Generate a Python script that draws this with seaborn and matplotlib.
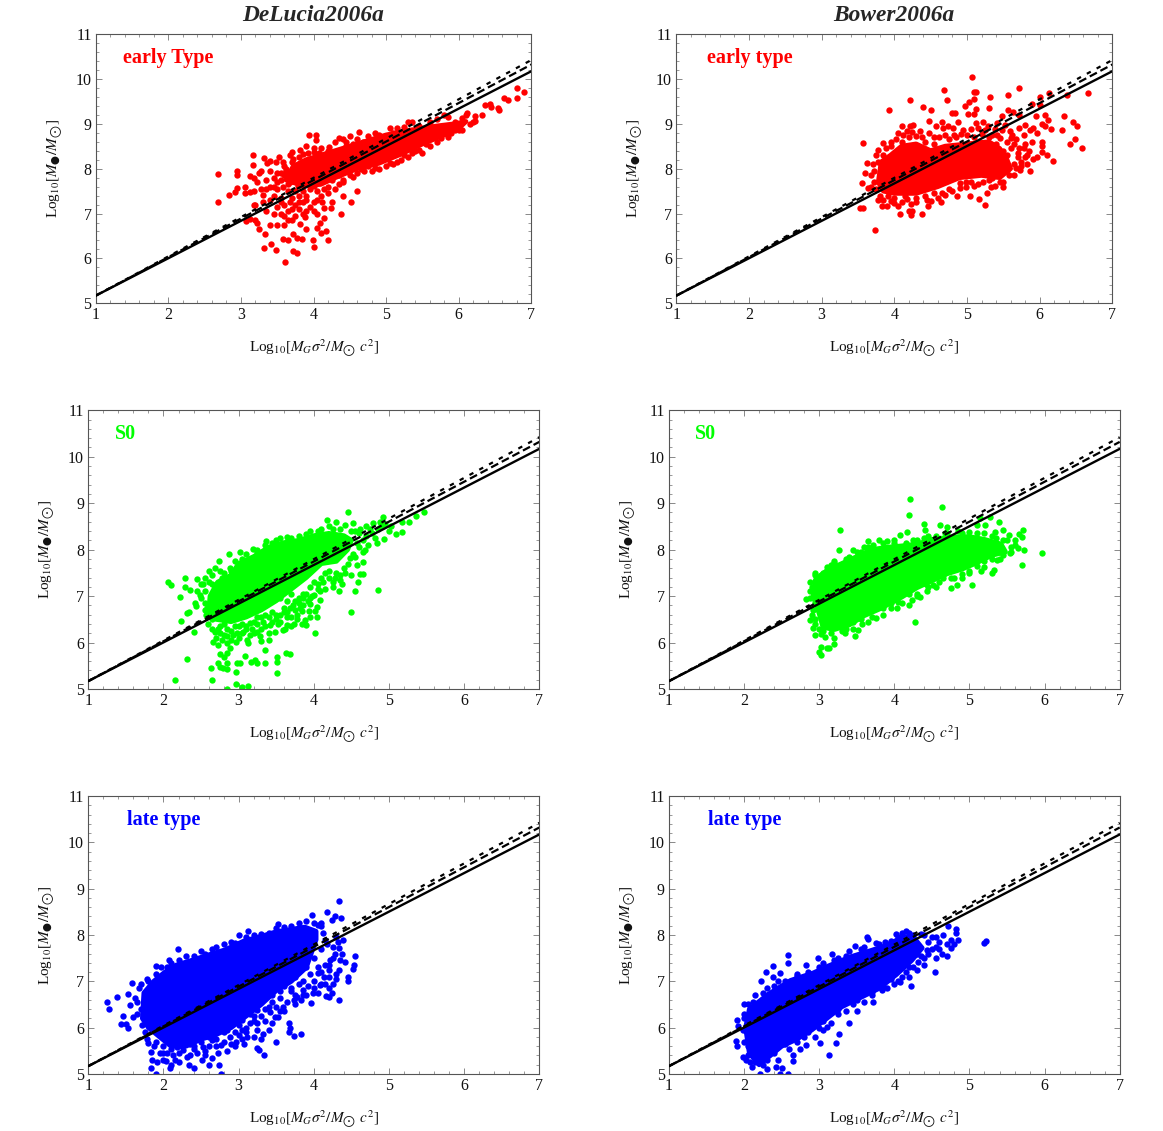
import matplotlib
matplotlib.use("Agg")
import matplotlib.pyplot as plt
import pandas as pd
import seaborn as sns
from matplotlib.ticker import MultipleLocator

# Values. The *_core outlines trace the solid part of each
# cloud where single points cannot be told apart; *_pts are the visible points.
line_x = [1, 7]
solid_y = [5.17, 10.17]
dashed_y = [5.17, 10.32]
dotted_y = [5.17, 10.42]
x_ticks = [1, 2, 3, 4, 5, 6, 7]
y_ticks = [5, 6, 7, 8, 9, 10, 11]

a_core = [(3.62, 7.75), (3.72, 8.05), (3.9, 8.2), (4.1, 8.3), (4.3, 8.4), (4.6, 8.55), (5.0, 8.75), (5.3, 8.85),
          (5.7, 8.95), (5.95, 9.0), (6.1, 9.05), (6.0, 8.9), (5.8, 8.75), (5.5, 8.55), (5.2, 8.32), (4.9, 8.12),
          (4.6, 8.0), (4.3, 7.8), (4.1, 7.65), (3.85, 7.62)]
a_pts = [(2.68, 7.89), (2.68, 7.25), (2.84, 7.42), (2.92, 7.49), (2.94, 7.57), (2.95, 7.95), (2.95, 7.86), (3.05, 7.6),
         (3.06, 7.45), (3.13, 7.49), (3.18, 7.51), (3.16, 8.31), (3.17, 8.09), (3.13, 7.84), (3.18, 7.79), (3.27, 7.95),
         (3.25, 7.9), (3.22, 7.7), (3.28, 7.55), (3.3, 7.42), (3.2, 7.2), (3.18, 7.18), (3.07, 6.84), (3.13, 6.87),
         (3.2, 6.85), (3.22, 6.78), (3.25, 6.65), (3.33, 6.55), (3.4, 6.75), (3.32, 6.23), (3.42, 6.32), (3.48, 6.19),
         (3.61, 5.91), (3.72, 6.17), (3.77, 6.13), (3.58, 6.43), (3.65, 6.4), (3.72, 6.55), (3.77, 6.45), (3.84, 6.43),
         (4.0, 6.26), (3.99, 6.4), (4.2, 6.41), (4.17, 6.6), (4.1, 6.56), (4.05, 6.67), (4.09, 6.8), (4.15, 6.9),
         (3.89, 6.65), (3.81, 6.77), (3.88, 6.93), (4.38, 6.98), (4.52, 7.25), (4.6, 7.51), (4.4, 7.38), (4.26, 7.25),
         (4.24, 7.12), (4.14, 7.12), (3.94, 8.74), (4.03, 8.75), (4.03, 8.64), (3.82, 8.42), (3.7, 8.38), (3.52, 8.26),
         (3.49, 8.14), (3.4, 8.17), (3.32, 8.23), (3.36, 8.12), (3.9, 8.5), (4.0, 8.47), (6.9, 9.71), (6.8, 9.79),
         (6.8, 9.58), (6.62, 9.57), (6.68, 9.54), (6.54, 9.36), (6.55, 9.31), (6.36, 9.42), (6.43, 9.45), (6.45, 9.37),
         (6.32, 9.2), (6.22, 9.18), (6.22, 9.07), (6.11, 9.24), (3.4, 7.6), (3.45, 7.4), (3.5, 7.55), (3.55, 7.35),
         (3.6, 7.2), (3.5, 7.15), (3.55, 7.0), (3.6, 6.95), (3.65, 7.05), (3.7, 7.1), (3.75, 6.95), (3.5, 6.75),
         (3.6, 6.75), (3.7, 6.85), (3.8, 7.1), (3.85, 7.25), (3.9, 7.3), (3.95, 7.15), (4.0, 7.05), (4.05, 7.0),
         (3.9, 7.4), (4.05, 7.3), (4.1, 7.4), (4.2, 7.45), (4.3, 7.55), (4.35, 7.65), (4.4, 7.7), (3.35, 7.05),
         (3.4, 7.3), (3.35, 7.75), (3.45, 7.8), (3.4, 7.95), (3.5, 7.9), (3.55, 7.75), (3.6, 7.85), (3.62, 8.0),
         (3.6, 8.05), (3.7, 8.15), (3.8, 8.25), (3.75, 7.95), (3.8, 7.4), (3.65, 7.5), (3.7, 7.35), (3.75, 7.5),
         (3.85, 7.5), (3.95, 7.55), (4.05, 7.5), (3.45, 7.0), (3.68, 7.7), (3.58, 7.6), (3.78, 7.62), (3.68, 7.25),
         (4.2, 8.4), (4.3, 8.6), (4.35, 8.68), (4.4, 8.65), (4.5, 8.72), (4.6, 8.65), (4.63, 8.82), (4.75, 8.72),
         (4.85, 8.8), (4.9, 8.75), (5.0, 8.72), (5.05, 8.9), (5.15, 8.9), (5.25, 8.93), (5.3, 9.03), (5.35, 9.03),
         (5.45, 8.95), (5.6, 9.05), (5.7, 9.1), (5.8, 9.2), (5.85, 9.15), (5.95, 9.05), (6.05, 9.12), (6.1, 9.2),
         (4.4, 7.75), (4.5, 7.85), (4.6, 7.9), (4.7, 7.95), (4.8, 7.95), (4.9, 8.0), (5.0, 8.05), (5.1, 8.1),
         (5.2, 8.2), (5.3, 8.25), (5.4, 8.4), (5.5, 8.35), (5.55, 8.55), (5.7, 8.6), (5.85, 8.7), (6.0, 8.85),
         (5.95, 8.85), (6.2, 9.05), (4.1, 8.45), (4.0, 8.38), (3.85, 8.33), (4.2, 7.6), (4.0, 7.62), (4.45, 8.5)]
a_fringe = [(3.72, 8.22), (3.8, 8.1), (3.92, 8.35), (4.08, 8.35), (4.15, 8.28), (4.22, 8.48), (4.28, 8.33), (4.45, 8.6),
            (4.55, 8.55), (4.68, 8.6), (4.8, 8.62), (4.95, 8.65), (5.1, 8.8), (5.2, 8.78), (5.4, 8.85), (5.55, 8.9),
            (5.75, 8.85), (5.9, 8.9), (4.25, 7.75), (4.35, 7.85), (4.45, 7.95), (4.55, 7.82), (4.65, 8.0), (4.75, 8.05),
            (4.85, 8.02), (5.05, 8.12), (5.15, 8.15), (5.25, 8.3), (5.35, 8.35), (5.45, 8.42), (5.6, 8.5), (5.75, 8.68),
            (5.9, 8.8), (6.05, 8.85), (6.0, 8.95), (6.15, 9.0), (3.95, 7.7), (3.85, 7.7), (3.75, 7.8), (3.65, 7.65),
            (3.55, 7.9), (4.15, 7.55), (3.5, 7.7), (3.45, 7.6), (3.3, 7.25), (3.35, 7.55), (3.55, 7.25), (3.8, 7.25),
            (3.75, 7.2), (3.65, 6.85), (3.9, 7.05), (4.0, 7.25), (4.12, 7.25), (3.85, 7.0), (3.58, 8.15), (3.68, 8.3),
            (3.62, 7.95)]

b_core = [(3.78, 7.7), (3.82, 8.15), (3.95, 8.3), (4.1, 8.5), (4.3, 8.55), (4.5, 8.4), (4.7, 8.5), (5.0, 8.55),
          (5.3, 8.6), (5.45, 8.45), (5.55, 8.2), (5.6, 8.0), (5.45, 7.8), (5.2, 7.85), (4.9, 7.8), (4.6, 7.6),
          (4.3, 7.45), (4.0, 7.45), (3.85, 7.5)]
b_pts = [(5.07, 10.05), (4.69, 9.76), (5.72, 9.8), (5.12, 9.71), (5.1, 9.7), (4.21, 9.54), (4.73, 9.53), (5.09, 9.55),
         (5.03, 9.48), (4.97, 9.39), (5.32, 9.6), (5.57, 9.64), (6.0, 9.6), (6.13, 9.69), (6.38, 9.63), (6.66, 9.68),
         (3.93, 9.3), (4.4, 9.37), (4.51, 9.3), (4.8, 9.24), (4.84, 9.25), (5.01, 9.21), (5.09, 9.21), (5.13, 9.33),
         (5.31, 9.36), (4.48, 9.06), (5.48, 9.18), (5.57, 9.31), (5.64, 9.27), (5.71, 9.2), (5.89, 9.45), (6.0, 9.42),
         (6.07, 9.2), (6.12, 9.09), (6.34, 9.17), (6.46, 9.04), (6.52, 8.96), (6.31, 8.87), (6.49, 8.67), (6.42, 8.55),
         (6.58, 8.45), (6.03, 9.0), (6.07, 8.95), (6.16, 8.88), (6.03, 8.6), (6.03, 8.51), (6.03, 8.38), (6.1, 8.31),
         (6.18, 8.16), (5.95, 9.18), (5.97, 8.79), (5.87, 7.95), (5.96, 8.27), (5.91, 8.21), (3.74, 6.64), (3.53, 7.12),
         (3.57, 7.13), (3.56, 7.68), (3.64, 7.56), (3.57, 8.58), (3.78, 8.41), (3.62, 8.12), (3.6, 7.9), (4.08, 6.99),
         (4.2, 7.06), (4.23, 6.96), (4.25, 7.06), (4.38, 6.99), (4.23, 7.22), (4.47, 7.16), (4.64, 7.25), (4.5, 7.28),
         (5.04, 7.38), (5.16, 7.32), (5.25, 7.19), (5.27, 7.45), (5.39, 7.62), (4.9, 7.57), (4.98, 7.59), (4.86, 7.38),
         (3.83, 7.16), (3.9, 7.17), (3.99, 7.23), (4.05, 7.16), (4.1, 8.94), (4.17, 8.83), (4.26, 8.98), (4.35, 8.83),
         (4.21, 8.94), (4.58, 8.94), (4.65, 9.03), (4.67, 8.9), (4.74, 8.94), (4.81, 8.9), (4.88, 9.03), (4.95, 8.87),
         (5.13, 9.01), (5.22, 9.05), (5.29, 8.94), (5.41, 9.01), (5.52, 8.98), (5.59, 8.83), (5.71, 8.9), (5.8, 8.98),
         (5.78, 8.75), (5.87, 8.87), (5.91, 8.9), (3.72, 7.95), (3.72, 7.7), (3.75, 7.55), (3.8, 7.4), (3.85, 7.3),
         (3.78, 8.15), (3.85, 8.3), (3.88, 8.45), (3.95, 8.5), (4.02, 8.65), (4.1, 8.6), (4.2, 8.7), (4.3, 8.72),
         (4.42, 8.6), (4.55, 8.55), (4.62, 8.7), (4.75, 8.65), (4.85, 8.7), (5.0, 8.75), (5.1, 8.7), (5.2, 8.78),
         (5.35, 8.75), (5.45, 8.68), (5.55, 8.6), (5.65, 8.55), (5.7, 8.35), (5.75, 8.15), (5.68, 8.02), (5.72, 8.45),
         (5.8, 8.55), (5.85, 8.4), (5.65, 7.85), (5.55, 7.98), (5.45, 7.7), (5.3, 7.75), (5.15, 7.65), (5.05, 7.7),
         (4.9, 7.68), (4.75, 7.55), (4.65, 7.45), (4.55, 7.45), (4.42, 7.38), (4.3, 7.35), (4.15, 7.38), (4.0, 7.35),
         (3.92, 7.38), (5.5, 7.6), (5.42, 8.75), (5.8, 8.25), (5.9, 8.6), (5.62, 8.75), (5.75, 8.05)]
b_fringe = [(5.3, 8.7), (5.4, 8.55), (5.5, 8.4), (5.6, 8.45), (5.7, 8.25), (5.55, 8.3), (5.65, 8.1), (5.58, 7.85),
            (5.5, 7.7), (5.35, 7.8), (5.68, 8.65), (5.78, 8.45), (5.82, 8.3), (5.73, 7.98), (5.82, 8.1), (5.6, 8.68),
            (5.48, 8.85), (5.38, 8.88), (5.25, 8.85), (5.15, 8.9), (5.05, 8.88), (4.92, 8.78), (4.82, 8.75), (4.7, 8.75),
            (4.55, 8.7), (4.48, 8.8), (4.38, 8.7), (4.25, 8.82), (4.12, 8.75), (4.05, 8.8), (3.95, 8.6), (3.85, 8.58),
            (3.75, 8.3), (3.7, 8.1), (3.68, 7.85), (3.68, 7.6), (3.78, 7.3), (3.95, 7.28), (4.1, 7.25), (4.18, 7.32),
            (4.3, 7.25), (4.45, 7.3), (4.6, 7.35), (4.7, 7.42), (4.8, 7.5), (4.98, 7.7), (5.1, 7.62), (5.22, 7.7),
            (5.33, 7.6)]

c_core = [(2.6, 6.62), (2.62, 7.0), (2.72, 7.3), (2.9, 7.45), (3.0, 7.7), (3.2, 7.85), (3.4, 8.05), (3.6, 8.15),
          (3.8, 8.2), (4.0, 8.3), (4.2, 8.35), (4.4, 8.3), (4.5, 8.2), (4.45, 8.0), (4.3, 7.75), (4.1, 7.7),
          (3.9, 7.4), (3.7, 7.15), (3.5, 6.9), (3.3, 6.7), (3.1, 6.55), (2.9, 6.45), (2.7, 6.5)]
c_pts = [(2.06, 7.3), (2.1, 7.23), (2.28, 7.38), (2.29, 7.19), (2.35, 7.13), (2.44, 7.37), (2.22, 6.99), (2.42, 6.85),
         (2.43, 6.79), (2.31, 6.63), (2.34, 6.66), (2.23, 6.46), (2.4, 6.22), (2.31, 5.65), (2.15, 5.19), (2.65, 5.19),
         (2.85, 5.01), (2.96, 5.11), (3.04, 5.04), (3.12, 5.06), (2.63, 5.46), (2.72, 5.57), (2.75, 5.48), (2.79, 5.46),
         (2.85, 5.57), (2.85, 5.43), (2.96, 5.37), (2.98, 5.55), (3.02, 5.57), (3.08, 5.7), (3.17, 5.59), (3.22, 5.62),
         (3.24, 5.57), (3.35, 5.55), (3.51, 5.69), (3.51, 5.59), (3.51, 5.35), (3.63, 5.78), (3.68, 5.75), (3.35, 5.85),
         (3.41, 6.06), (3.3, 6.03), (3.13, 5.98), (3.11, 6.06), (2.97, 6.02), (2.88, 5.88), (2.84, 5.77), (2.75, 5.75),
         (2.81, 5.68), (2.66, 6.02), (2.69, 6.22), (4.02, 6.21), (4.5, 6.66), (4.86, 7.14), (4.55, 7.1), (4.33, 7.11),
         (4.37, 7.25), (3.59, 6.27), (3.64, 6.38), (3.74, 6.41), (3.84, 6.39), (3.9, 6.38), (3.88, 6.49), (4.04, 6.56),
         (4.02, 6.67), (4.04, 6.77), (3.93, 6.68), (3.84, 6.67), (4.08, 6.92), (4.08, 7.1), (4.0, 7.02), (3.95, 6.84),
         (3.48, 6.23), (3.42, 6.38), (3.33, 6.45), (3.24, 6.23), (3.15, 6.16), (3.06, 6.23), (2.93, 6.16), (2.8, 6.16),
         (5.47, 8.8), (5.36, 8.72), (5.26, 8.6), (5.17, 8.6), (5.17, 8.38), (5.1, 8.33), (4.93, 8.23), (5.03, 8.5),
         (4.92, 8.71), (4.88, 8.6), (4.46, 8.8), (4.18, 8.63), (4.3, 8.6), (4.41, 8.53), (4.52, 8.57), (4.7, 8.5),
         (4.79, 8.57), (4.66, 7.96), (4.61, 7.48), (4.65, 7.48), (4.59, 7.31), (4.5, 7.46), (4.84, 8.14), (4.81, 8.25),
         (4.66, 7.74), (4.57, 7.67), (4.48, 7.81), (2.6, 7.53), (2.69, 7.6), (2.74, 7.76), (2.87, 7.9), (3.02, 7.94),
         (3.19, 8.02), (3.37, 8.19), (2.88, 7.6), (2.53, 7.27), (2.49, 7.02), (2.55, 6.85), (2.57, 6.59), (2.59, 6.39),
         (2.72, 6.3), (2.85, 6.3), (3.0, 6.35), (3.2, 6.45), (3.3, 6.55), (3.45, 6.65), (3.6, 6.75), (3.75, 6.9),
         (3.85, 7.05), (3.95, 7.2), (4.1, 7.4), (4.25, 7.3), (4.3, 7.5), (4.4, 7.6), (4.55, 7.85), (4.6, 8.05),
         (4.7, 8.3), (4.6, 8.35), (4.75, 8.45), (4.85, 8.45), (4.55, 8.4), (3.5, 8.2), (3.7, 8.25), (3.9, 8.33),
         (4.05, 8.4), (4.25, 8.45), (3.65, 6.55), (3.5, 6.5), (3.75, 6.7), (3.3, 6.3), (3.1, 6.35), (2.9, 6.05),
         (3.55, 6.95), (3.65, 6.9), (3.8, 6.85), (3.9, 7.05), (3.7, 7.05), (2.75, 6.2), (2.8, 6.4), (2.6, 7.3),
         (2.55, 7.1), (2.58, 6.75), (2.65, 7.45), (2.8, 7.5), (2.95, 7.75), (3.1, 7.9), (3.25, 7.95), (3.45, 8.15)]
c_fringe = [(2.65, 6.3), (2.7, 6.1), (2.78, 6.05), (2.85, 6.15), (2.9, 6.25), (2.98, 6.2), (3.05, 6.4), (3.1, 6.3),
            (3.18, 6.3), (3.25, 6.4), (3.35, 6.35), (3.4, 6.55), (3.5, 6.6), (3.55, 6.45), (3.6, 6.65), (3.68, 6.75),
            (3.7, 6.55), (3.78, 6.6), (3.8, 6.95), (3.85, 6.8), (3.92, 6.9), (3.98, 7.0), (4.05, 7.25), (4.0, 7.3),
            (4.15, 7.15), (4.2, 7.4), (4.28, 7.4), (4.35, 7.45), (4.42, 7.5), (4.45, 7.7), (4.35, 7.35), (4.15, 7.5),
            (4.52, 7.9), (4.58, 8.15), (4.68, 8.0), (4.72, 8.1), (4.65, 8.2), (4.78, 8.35), (4.9, 8.5), (5.0, 8.4),
            (4.95, 8.55), (2.45, 7.1), (2.5, 6.95), (2.55, 6.7), (2.5, 7.25), (2.55, 7.4), (2.65, 7.25), (2.78, 7.4),
            (2.75, 7.55), (2.9, 7.55), (3.0, 7.6), (3.05, 7.8), (3.15, 7.8), (3.25, 8.0), (3.35, 8.1), (3.45, 8.05),
            (3.55, 8.25), (3.65, 8.27), (3.8, 8.3), (3.95, 8.4), (4.1, 8.45), (4.2, 8.5), (4.35, 8.45), (4.5, 8.4),
            (4.62, 8.45), (2.65, 6.5), (2.75, 6.35), (2.95, 6.35), (3.05, 6.2), (3.15, 6.42), (3.25, 6.55), (3.35, 6.6),
            (3.45, 6.45), (3.55, 6.6), (3.65, 6.65), (3.72, 6.8), (3.85, 6.95), (3.95, 6.95), (4.05, 7.15), (4.12, 7.3),
            (4.25, 7.2), (4.2, 7.55), (3.82, 6.75), (3.62, 6.3), (3.4, 6.2), (3.2, 6.2), (3.0, 6.1), (2.85, 6.0),
            (2.72, 5.95), (3.7, 6.35), (3.95, 6.55), (3.78, 6.5), (3.52, 6.4), (3.28, 6.15)]

d_core = [(2.92, 7.0), (2.95, 7.35), (3.1, 7.55), (3.3, 7.7), (3.5, 7.85), (3.7, 8.0), (3.9, 8.05), (4.1, 8.08),
          (4.3, 8.12), (4.5, 8.22), (4.75, 8.27), (5.0, 8.28), (5.2, 8.22), (5.42, 8.12), (5.48, 7.95), (5.3, 7.88),
          (5.1, 7.72), (4.9, 7.58), (4.7, 7.48), (4.5, 7.33), (4.3, 7.18), (4.1, 6.98), (3.8, 6.72), (3.6, 6.58),
          (3.4, 6.38), (3.2, 6.28), (3.05, 6.33), (3.0, 6.62)]
d_pts = [(4.21, 9.1), (4.19, 8.74), (4.63, 8.92), (3.27, 8.43), (3.26, 8.0), (3.65, 8.19), (4.39, 8.55), (4.61, 8.53),
         (4.17, 8.39), (4.08, 8.32), (4.41, 8.42), (4.7, 8.48), (5.39, 8.6), (5.27, 8.71), (5.14, 8.68), (5.1, 8.53),
         (5.21, 8.52), (5.34, 8.39), (5.45, 8.42), (5.52, 8.32), (5.71, 8.42), (5.7, 8.28), (5.66, 8.34), (5.65, 8.03),
         (5.72, 8.0), (5.7, 7.66), (5.97, 7.92), (5.54, 7.92), (5.45, 7.89), (5.36, 7.78), (5.32, 7.56), (5.3, 7.49),
         (5.16, 7.55), (5.03, 7.23), (4.83, 7.23), (4.76, 7.17), (4.9, 7.38), (4.27, 6.45), (2.94, 6.16), (3.02, 6.19),
         (3.02, 5.9), (3.0, 5.79), (3.03, 5.73), (3.1, 5.88), (3.13, 5.88), (3.19, 5.96), (2.82, 6.94), (2.88, 6.49),
         (2.92, 6.31), (3.48, 6.15), (3.34, 6.2), (3.52, 6.27), (3.57, 6.39), (3.76, 6.52), (4.03, 6.74), (4.19, 6.81),
         (4.23, 6.92), (4.34, 6.99), (4.43, 7.1), (4.52, 7.24), (4.65, 7.38), (2.9, 7.2), (2.88, 7.1), (2.92, 6.7),
         (2.95, 6.5), (3.0, 6.3), (3.08, 6.12), (3.2, 6.1), (3.3, 6.25), (3.45, 6.3), (3.65, 6.45), (3.85, 6.6),
         (3.95, 6.75), (4.1, 6.85), (4.3, 7.05), (4.45, 7.2), (4.6, 7.3), (4.8, 7.4), (5.0, 7.55), (5.2, 7.75),
         (5.4, 7.8), (5.55, 8.05), (5.6, 8.2), (5.5, 8.2), (5.35, 8.25), (5.1, 8.35), (4.9, 8.35), (4.7, 8.35),
         (4.45, 8.3), (4.25, 8.2), (4.0, 8.15), (3.8, 8.2), (3.85, 8.15), (3.55, 7.95), (3.4, 7.85), (3.2, 7.75),
         (3.05, 7.5), (2.95, 7.45), (3.45, 8.0), (3.15, 7.68), (3.6, 8.05)]
d_fringe = [(2.88, 7.3), (2.95, 7.5), (3.02, 7.45), (3.1, 7.62), (3.2, 7.72), (3.25, 7.65), (3.35, 7.8), (3.5, 7.95),
            (3.65, 8.05), (3.72, 8.1), (3.9, 8.18), (4.0, 8.2), (4.15, 8.15), (4.3, 8.2), (4.4, 8.25), (4.55, 8.3),
            (4.68, 8.35), (4.85, 8.4), (5.0, 8.38), (5.2, 8.35), (5.3, 8.3), (5.45, 8.2), (5.6, 8.1), (5.55, 7.95),
            (5.42, 7.95), (5.3, 7.8), (5.2, 7.62), (5.1, 7.65), (5.0, 7.5), (4.9, 7.48), (4.75, 7.4), (4.65, 7.45),
            (4.55, 7.2), (4.42, 7.25), (4.3, 7.0), (4.2, 7.05), (4.05, 6.88), (3.95, 6.85), (3.85, 6.75), (3.7, 6.55),
            (3.55, 6.5), (3.45, 6.45), (3.35, 6.3), (3.25, 6.35), (3.15, 6.2), (3.05, 6.25), (2.95, 6.4), (2.9, 6.6),
            (2.95, 6.85), (2.88, 6.95)]

e_core = [(1.72, 6.2), (1.74, 6.75), (1.87, 7.0), (2.02, 7.2), (2.17, 7.35), (2.37, 7.45), (2.62, 7.58), (2.82, 7.68),
          (3.07, 7.87), (3.3, 7.97), (3.5, 8.07), (3.7, 8.12), (3.88, 8.17), (4.03, 8.08), (4.03, 7.9), (3.9, 7.3),
          (3.7, 7.0), (3.5, 6.8), (3.3, 6.5), (3.1, 6.25), (2.9, 6.0), (2.7, 5.85), (2.5, 5.75), (2.3, 5.6),
          (2.1, 5.6), (1.95, 5.8), (1.8, 6.0)]
e_pts = [(1.25, 6.55), (1.28, 6.41), (1.38, 6.66), (1.46, 6.25), (1.44, 6.07), (1.5, 6.08), (1.53, 6.0), (1.53, 6.73),
         (1.58, 6.97), (1.55, 6.49), (1.59, 6.23), (1.9, 7.34), (1.97, 7.31), (2.08, 7.46), (2.19, 7.69), (4.33, 8.74),
         (4.17, 8.49), (4.28, 8.41), (4.24, 8.32), (4.36, 8.37), (3.97, 8.43), (3.53, 8.23), (3.13, 8.09), (4.55, 7.55),
         (4.53, 7.35), (4.52, 7.26), (4.45, 7.09), (4.45, 7.01), (4.34, 6.59), (4.24, 6.74), (4.2, 6.67), (4.16, 6.68),
         (3.96, 6.54), (3.83, 6.59), (3.83, 5.87), (3.74, 5.82), (3.69, 6.0), (3.67, 6.11), (3.67, 5.91), (3.5, 5.69),
         (3.34, 5.41), (3.27, 5.52), (3.25, 5.57), (3.07, 5.65), (2.77, 5.0), (2.74, 5.2), (2.72, 5.45), (2.64, 5.35),
         (2.51, 5.3), (2.4, 5.12), (2.34, 5.19), (2.09, 5.12), (2.1, 5.19), (1.84, 5.12), (1.9, 5.0), (1.84, 5.48),
         (1.8, 5.66), (2.0, 5.3), (2.04, 5.27), (2.13, 5.41), (2.0, 5.45), (2.31, 5.37), (3.48, 6.23), (3.53, 6.22),
         (3.42, 6.34), (3.59, 6.45), (3.73, 6.59), (4.21, 7.46), (4.33, 7.71), (4.39, 7.89), (4.37, 7.6), (4.41, 7.42),
         (4.33, 7.25), (4.3, 7.06), (4.13, 7.1), (4.08, 6.92), (3.99, 6.74), (4.06, 7.17), (3.86, 6.81), (3.77, 6.67),
         (3.33, 5.87), (3.24, 5.95), (3.11, 5.8), (2.97, 5.7), (2.88, 5.8), (2.77, 5.62), (2.64, 5.73), (2.53, 5.59),
         (2.4, 5.55), (2.26, 5.52), (2.18, 5.59), (3.04, 6.16), (3.24, 6.38), (1.7, 6.4), (1.68, 6.85), (1.62, 6.65),
         (1.78, 7.05), (1.9, 7.15), (2.1, 7.4), (2.3, 7.55), (2.5, 7.65), (2.7, 7.75), (2.9, 7.85), (3.0, 8.0),
         (3.3, 8.03), (3.6, 8.17), (3.8, 8.25), (4.0, 8.25), (4.1, 8.2), (4.12, 8.05), (4.15, 7.9), (4.1, 7.7),
         (4.0, 7.5), (3.9, 7.3), (3.75, 7.1), (3.6, 6.9), (3.45, 6.7), (3.3, 6.55), (3.15, 6.3), (3.0, 6.05),
         (2.8, 5.9), (2.6, 5.8), (2.4, 5.6), (1.9, 5.7), (1.75, 5.9), (4.2, 7.25), (4.0, 7.0), (3.85, 7.0),
         (3.7, 6.8), (3.55, 6.65), (3.4, 6.45), (3.2, 6.15), (3.1, 6.0), (2.95, 5.9), (2.2, 5.25), (2.05, 5.45)]
e_fringe = [(3.95, 7.15), (4.05, 7.3), (4.15, 7.35), (4.25, 7.5), (4.2, 7.1), (4.3, 7.15), (4.1, 6.95), (3.92, 6.9),
            (3.8, 6.95), (3.7, 6.85), (3.65, 7.0), (3.55, 6.8), (3.45, 6.55), (3.5, 6.45), (3.35, 6.4), (3.3, 6.25),
            (3.2, 6.25), (3.15, 6.1), (3.1, 5.9), (3.0, 5.85), (2.9, 5.65), (2.85, 5.95), (2.7, 5.75), (2.6, 5.6),
            (2.65, 5.85), (2.5, 5.7), (2.35, 5.65), (2.25, 5.6), (2.1, 5.55), (2.0, 5.6), (1.88, 5.6), (1.95, 5.45),
            (2.2, 5.45), (1.78, 5.75), (1.72, 6.05), (1.65, 6.3), (1.65, 6.55), (1.7, 6.95), (1.8, 7.0), (1.95, 7.1),
            (2.05, 7.3), (2.2, 7.45), (2.4, 7.55), (2.55, 7.6), (2.65, 7.7), (2.8, 7.8), (2.95, 7.82), (3.1, 7.95),
            (3.2, 8.0), (3.4, 8.05), (3.5, 8.15), (3.7, 8.2), (3.9, 8.3), (4.05, 8.22), (4.1, 8.25), (4.17, 7.8),
            (4.25, 7.75), (4.28, 7.6), (4.35, 7.45), (3.85, 6.7), (4.0, 6.85), (3.6, 6.35), (3.75, 6.5), (2.45, 5.45),
            (2.55, 5.5), (2.7, 5.6), (2.8, 5.7), (2.95, 5.6), (3.05, 5.75), (3.2, 5.8), (3.3, 5.75), (3.4, 5.95),
            (3.45, 6.1), (3.55, 6.35), (3.65, 6.55), (3.75, 6.7), (3.9, 6.7), (4.05, 6.75), (4.15, 6.95), (4.2, 6.85),
            (4.25, 6.95), (4.1, 7.2), (4.2, 7.35), (3.25, 6.1), (3.35, 6.15), (3.05, 5.95), (2.35, 5.4), (2.15, 5.3),
            (1.85, 5.3), (1.92, 5.25), (4.32, 7.85), (4.3, 7.95), (2.55, 5.4), (2.6, 5.2), (2.85, 5.5)]

f_core = [(2.07, 5.45), (2.02, 6.0), (2.07, 6.4), (2.32, 6.72), (2.62, 7.02), (2.92, 7.18), (3.12, 7.33), (3.42, 7.53),
          (3.7, 7.67), (3.9, 7.78), (4.13, 7.97), (4.27, 7.92), (4.37, 7.72), (4.23, 7.45), (4.03, 7.15), (3.8, 6.85),
          (3.55, 6.65), (3.3, 6.45), (3.1, 6.2), (2.9, 5.95), (2.7, 5.75), (2.5, 5.6), (2.35, 5.4), (2.2, 5.2)]
f_pts = [(5.2, 7.83), (5.22, 7.86), (4.82, 8.14), (4.82, 8.04), (4.72, 8.2), (4.85, 7.89), (4.79, 7.81), (4.76, 7.71),
         (4.65, 7.99), (4.7, 7.81), (4.63, 7.6), (4.56, 7.5), (4.54, 7.21), (4.22, 6.9), (4.39, 7.35), (4.19, 7.31),
         (3.39, 6.09), (3.26, 5.86), (3.22, 5.66), (3.13, 5.42), (2.59, 7.56), (2.59, 7.4), (2.38, 7.33), (2.29, 7.21),
         (2.23, 7.0), (2.39, 7.1), (2.48, 7.18), (1.91, 6.16), (1.92, 6.03), (1.89, 5.71), (1.91, 5.61), (2.0, 6.52),
         (1.99, 5.37), (2.03, 5.31), (2.1, 5.16), (2.21, 5.01), (2.48, 5.01), (2.59, 5.0), (2.43, 5.16), (2.5, 5.14),
         (2.65, 5.28), (2.65, 5.41), (2.74, 5.55), (2.83, 5.62), (3.01, 5.66), (3.1, 6.02), (3.5, 6.36), (3.72, 6.56),
         (3.83, 6.81), (3.99, 6.95), (4.08, 6.99), (3.63, 7.96), (3.65, 7.91), (3.47, 7.76), (3.17, 7.58), (2.99, 7.5),
         (2.82, 7.35), (4.02, 8.02), (4.16, 8.09), (3.88, 7.85), (4.36, 8.03), (4.43, 7.67), (4.32, 7.42), (2.0, 6.3),
         (2.15, 6.7), (2.3, 6.85), (2.45, 7.0), (2.7, 7.15), (3.0, 7.3), (3.25, 7.5), (3.4, 7.65), (3.6, 7.75),
         (3.8, 7.8), (4.05, 7.95), (4.25, 8.0), (4.45, 7.85), (4.5, 7.7), (4.4, 7.5), (4.25, 7.3), (4.1, 7.1),
         (3.9, 6.85), (3.7, 6.7), (3.45, 6.5), (3.25, 6.3), (3.0, 6.0), (2.8, 5.8), (2.6, 5.55), (2.45, 5.3),
         (2.3, 5.1), (2.15, 5.25), (2.05, 5.4), (3.05, 5.95), (4.3, 7.6), (4.6, 7.85), (4.5, 7.95)]
f_fringe = [(2.0, 6.2), (1.98, 5.95), (2.0, 5.7), (2.05, 5.6), (2.08, 5.25), (2.15, 5.4), (2.25, 5.2), (2.3, 5.3),
            (2.4, 5.45), (2.55, 5.65), (2.7, 5.7), (2.85, 5.9), (2.95, 5.8), (3.05, 6.15), (3.15, 6.1), (3.25, 6.4),
            (3.35, 6.35), (3.5, 6.6), (3.6, 6.55), (3.7, 6.78), (3.85, 6.9), (3.95, 7.05), (4.05, 7.0), (4.15, 7.2),
            (4.2, 7.1), (4.3, 7.25), (4.35, 7.55), (4.45, 7.6), (4.55, 7.75), (4.6, 7.7), (4.7, 7.55), (4.75, 7.9),
            (4.55, 7.95), (4.4, 8.0), (4.2, 8.05), (4.1, 8.05), (3.95, 7.88), (3.75, 7.82), (3.55, 7.7), (3.35, 7.55),
            (3.2, 7.45), (3.05, 7.4), (2.85, 7.2), (2.7, 7.12), (2.55, 7.0), (2.4, 6.9), (2.25, 6.75), (2.12, 6.55),
            (2.05, 6.5)]

# panel geometry in reference pixels: left, right, top, bottom, y label x
panels = [
    ("early Type", "#ff0000", a_core, a_pts + a_fringe, (95.7, 531.3, 34, 303.3, 55), 123),
    ("early type", "#ff0000", b_core, b_pts + b_fringe, (676.3, 1112.3, 34, 303.3, 635), 707),
    ("S0", "#00ff00", c_core, c_pts + c_fringe, (88.3, 539.3, 410.3, 689, 47), 115),
    ("S0", "#00ff00", d_core, d_pts + d_fringe, (669, 1119.7, 410.3, 689, 628), 695),
    ("late type", "#0000ff", e_core, e_pts + e_fringe, (88.3, 539.3, 796, 1074, 47), 127),
    ("late type", "#0000ff", f_core, f_pts + f_fringe, (669, 1119.7, 796, 1074, 628), 708),
]
titles = [("DeLucia2006a", 313), ("Bower2006a", 894)]

W, H = 1163, 1131
sns.set_style("white")
plt.rcParams["font.family"] = ["Liberation Serif", "DejaVu Serif"]
plt.rcParams["mathtext.fontset"] = "stix"
frame = "#555555"

fig = plt.figure(figsize=(W / 100, H / 100), dpi=100)

for name, color, core, pts, (left, right, top, bottom, ylab_x), name_x in panels:
    ax = fig.add_axes([left / W, 1 - bottom / H, (right - left) / W, (bottom - top) / H])
    ax.fill([p[0] for p in core], [p[1] for p in core], color=color, linewidth=3.5, joinstyle="round", zorder=1)
    df = pd.DataFrame(pts, columns=["x", "y"])
    sns.scatterplot(data=df, x="x", y="y", color=color, s=21, linewidth=0, ax=ax, zorder=2, legend=False)
    sns.lineplot(x=line_x, y=solid_y, color="black", linewidth=1.7, ax=ax, zorder=3, errorbar=None)
    sns.lineplot(x=line_x, y=dashed_y, color="black", linewidth=1.6, ax=ax, zorder=3, errorbar=None, linestyle=(0, (3.6, 1.8)))
    sns.lineplot(x=line_x, y=dotted_y, color="black", linewidth=1.6, ax=ax, zorder=3, errorbar=None, linestyle=(0, (2, 3)))

    ax.set_xlim(1, 7)
    ax.set_ylim(5, 11)
    ax.set_xticks(x_ticks)
    ax.set_yticks(y_ticks)
    ax.xaxis.set_minor_locator(MultipleLocator(0.2))
    ax.yaxis.set_minor_locator(MultipleLocator(0.2))
    ax.tick_params(which="major", direction="in", length=4.5, width=0.7, color="#888888", top=True, right=True,
                   bottom=True, left=True, labelsize=11.5, labelcolor="#111111", pad=3)
    ax.tick_params(which="minor", direction="in", length=2.2, width=0.6, color="#888888", top=True, right=True,
                   bottom=True, left=True)
    ax.set_xlabel("")
    ax.set_ylabel("")
    for side in ax.spines.values():
        side.set_visible(True)
        side.set_color(frame)
        side.set_linewidth(0.8)

    fig.text(name_x / W, 1 - (top + 24) / H, name, color=color, fontsize=14.5, fontweight="bold", va="center", ha="left")
    fig.text((left + right) / 2 / W, 1 - (bottom + 45) / H, r"Log$_{10}$[$M_G\sigma^2/M_{\bigodot}\ c^2$]",
             fontsize=11, ha="center", va="center", color="#111111")
    fig.text(ylab_x / W, 1 - (top + bottom) / 2 / H, r"Log$_{10}$[$M_{●}/M_{\bigodot}$]", fontsize=11,
             rotation=90, ha="center", va="center", color="#111111")

for title, title_x in titles:
    fig.text(title_x / W, 1 - 15.5 / H, title, fontsize=16.8, fontweight="bold", fontstyle="italic", ha="center", va="center")

fig.savefig("out.png", dpi=100)
